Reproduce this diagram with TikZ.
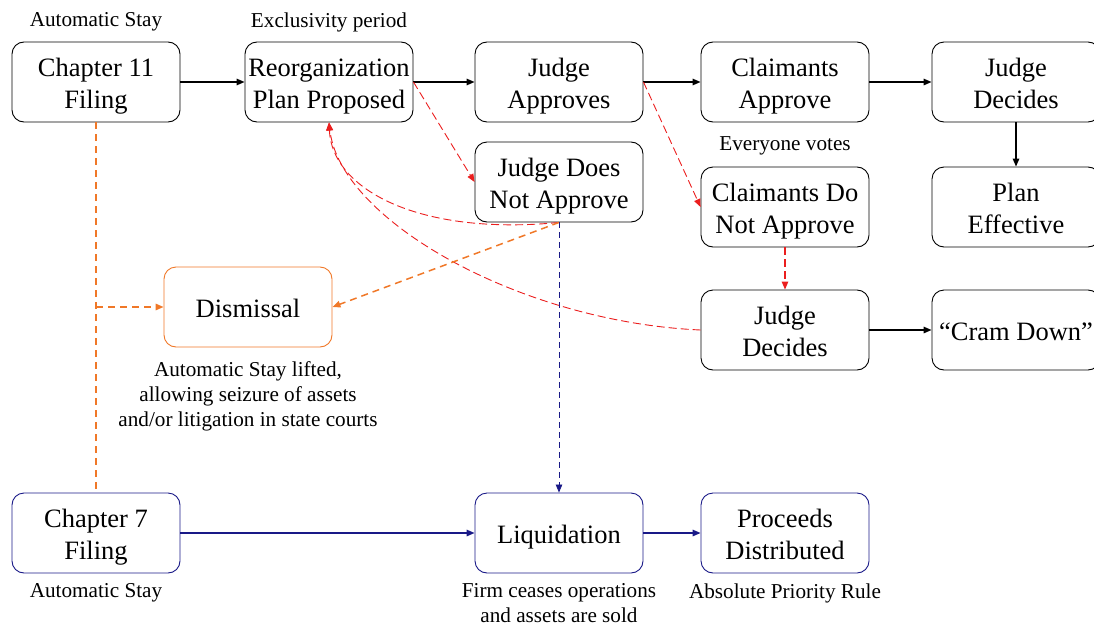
\documentclass[tikz,border=0pt]{standalone}
\usepackage{fontspec}
\setmainfont{Liberation Serif}
\usetikzlibrary{arrows.meta}
\definecolor{myorange}{RGB}{240,120,40}
\definecolor{myred}{RGB}{235,30,30}
\definecolor{mynavy}{RGB}{25,25,135}
\begin{document}
\begin{tikzpicture}[x=1pt,y=-1pt,
 box/.style={draw, line width=0.9pt, rounded corners=12pt, minimum width=168pt, minimum height=80pt, align=center, inner sep=0pt, font=\fontsize{26.5}{32}\selectfont, text height=58pt, text depth=6pt},
 one/.style={text height=26pt},
 obox/.style={box, one, draw=myorange},
 nbox/.style={box, draw=mynavy},
 note/.style={align=center, inner sep=0pt, font=\fontsize{21.2}{25}\selectfont},
 tipa/.style={-{Triangle[length=8pt,width=6.5pt]}},
 blk/.style={tipa, line width=1.4pt},
 nav/.style={tipa, draw=mynavy, fill=mynavy, line width=1.4pt},
 navdash/.style={tipa, draw=mynavy, line width=0.8pt, dash pattern=on 6pt off 4pt},
 reddash/.style={tipa, draw=myred, line width=0.9pt, dash pattern=on 8pt off 4pt},
 orgdash/.style={draw=myorange, line width=1.5pt, dash pattern=on 7pt off 5pt},
]
\useasboundingbox (0,0) rectangle (1094,626);
% nodes
\node[box] (ch11) at (96,82) {Chapter 11\\Filing};
\node[box] (reorg) at (329,82) {Reorganization\\Plan Proposed};
\node[box] (ja) at (559,82) {Judge\\Approves};
\node[box] (ca) at (785,82) {Claimants\\Approve};
\node[box] (jd1) at (1016,82) {Judge\\Decides};
\node[box] (pe) at (1016,207) {Plan\\Effective};
\node[box] (jdna) at (559,182) {Judge Does\\Not Approve};
\node[box] (cdna) at (785,207) {Claimants Do\\Not Approve};
\node[box] (jd2) at (785,330) {Judge\\Decides};
\node[box, one] (cram) at (1016,330) {“Cram Down”};
\node[obox] (dis) at (248,307) {Dismissal};
\node[nbox] (ch7) at (96,533) {Chapter 7\\Filing};
\node[nbox, one] (liq) at (559,533) {Liquidation};
\node[nbox] (pd) at (785,533) {Proceeds\\Distributed};
% notes
\node[note] (n1) at (96,22) {Automatic Stay};
\node[note] (n2) at (329,22) {Exclusivity period};
\node[note] (n3) at (785,146) {Everyone votes};
\node[note] (n4) at (248,396) {Automatic Stay lifted,\\allowing seizure of assets\\and/or litigation in state courts};
\node[note] (n5) at (96,593) {Automatic Stay};
\node[note] (n6) at (559,603) {Firm ceases operations\\and assets are sold};
\node[note] (n7) at (785,593) {Absolute Priority Rule};
% black arrows
\draw[blk] (ch11) -- (reorg);
\draw[blk] (reorg) -- (ja);
\draw[blk] (ja) -- (ca);
\draw[blk] (ca) -- (jd1);
\draw[blk] (jd1) -- (pe);
\draw[blk] (jd2) -- (cram);
% red dashed
\draw[reddash] (reorg.east) -- (jdna.west);
\draw[reddash] (ja.east) -- (cdna.west);
\draw[reddash, line width=1.2pt] (cdna) -- (jd2);
\draw[reddash] (jdna.south) .. controls (420,236) and (332,190) .. (reorg.south);
\draw[reddash] (jd2.west) .. controls (520,322) and (340,220) .. (reorg.south);
% orange
\draw[orgdash] (ch11.south) -- (ch7.north);
\coordinate (br) at (ch11.south |- dis.west);
\draw[orgdash, tipa] (br) -- (dis.west);
\draw[orgdash, tipa] (jdna.south) -- (dis.east);
% navy
\draw[navdash] (jdna.south) -- (liq.north);
\draw[nav] (ch7) -- (liq);
\draw[nav] (liq) -- (pd);
\end{tikzpicture}
\end{document}
